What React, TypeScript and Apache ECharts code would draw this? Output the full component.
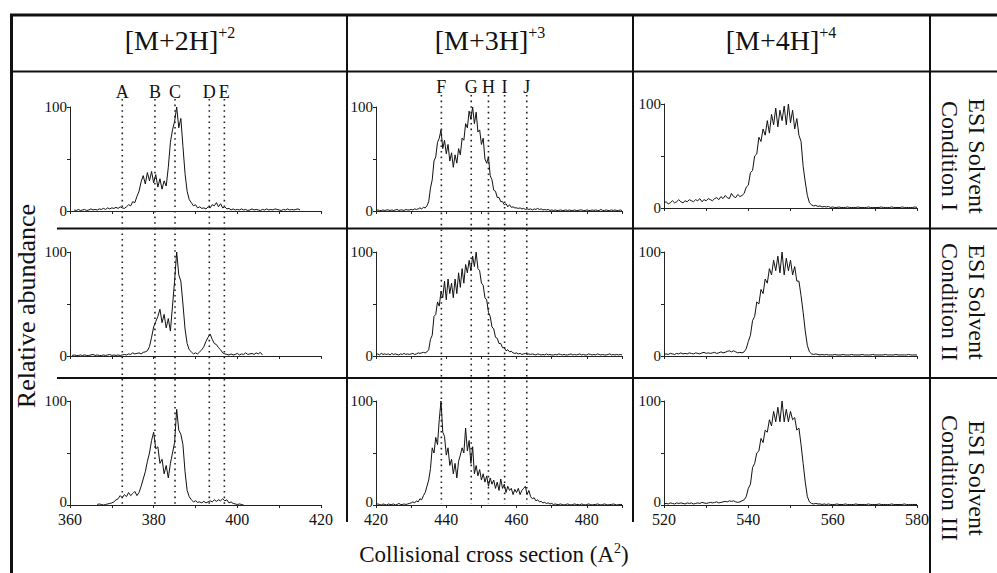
import React, { useEffect, useRef } from "react";
import * as echarts from "echarts";

const FONT = '"Liberation Serif", "Times New Roman", serif';

const COLUMN_TITLES = ["[M+2H]", "[M+3H]", "[M+4H]"];
const COLUMN_CHARGES = ["+2", "+3", "+4"];
const ROW_CONDITIONS = ["Condition I", "Condition II", "Condition III"];
const ROW_SOLVENT = "ESI Solvent";
const Y_TITLE = "Relative abundance";
const X_TITLE = "Collisional cross section (A";
const X_TITLE_SUP = "2";
const X_MIN = [360, 420, 520];
const X_MAX = [420, 490, 580];
const Y_LABELS_SHOWN = [0, 100];

const MARKERS_2H = ["A", "B", "C", "D", "E"];
const MARKER_X_2H = [372.5, 380.3, 385.1, 393.3, 396.9];
const MARKERS_3H = ["F", "G", "H", "I", "J"];
const MARKER_X_3H = [438.6, 447.1, 452.0, 456.6, 462.9];

const STEP = 0.5;

// [M+2H]+2
const START_2H_I = 361;
const VALUES_2H_I = [
  1, 0.5, 1.5, 0.5, 1, 1.5, 0.5, 1, 2, 1, 1.5, 1, 2, 1.5, 2.5, 1.5, 3, 2, 3, 2.5,
  3.5, 2.5, 4, 3, 2.5, 4, 6, 5, 9, 8, 14, 19, 28, 34, 26, 37, 29, 38, 27, 35,
  23, 31, 21, 29, 24, 42, 66, 78, 86, 100, 80, 89, 62, 36, 19, 11, 8, 5, 6, 3,
  4, 2.5, 3, 2, 4, 3, 6, 5, 8, 4, 7, 3, 4, 2, 2.5, 1, 2, 1, 1.5,
  1, 2, 1, 1.5, 0.5, 1, 2, 1, 1.5, 1, 0.5, 1.5, 1, 2, 1, 1.5, 1, 2, 1.5, 1,
  0.5, 1.5, 1, 2, 1, 1.5, 1, 1.5, 2, 1,
];
const START_2H_II = 360.5;
const VALUES_2H_II = [
  0.5, 1, 0.5, 0.5, 1, 0.5, 1, 0.5, 0.5, 1, 1.5, 0.5, 1, 0.5, 0.5, 1, 0.5, 1, 1.5, 0.5,
  1, 0.5, 1, 0.5, 1, 1.5, 1, 2, 1.5, 3, 2, 2.5, 3, 2, 3.5, 4, 5,
  9, 18, 28, 33, 38, 45, 32, 40, 27, 36, 24, 48, 72, 100, 78, 72, 50, 26, 12, 6,
  4, 2, 3, 2, 4, 6, 9, 14, 18, 21, 16, 12, 11, 8, 6, 3, 2, 1.5, 1, 2,
  1, 1.5, 2.5, 1, 2, 1.5, 3, 1.5, 2, 2.5, 1.5, 3, 2, 3.5, 1,
];
const START_2H_III = 366.5;
const VALUES_2H_III = [
  0.5, 1, 0.5, 0, 0.5, 1, 1.5, 2, 3, 5, 6, 9, 7, 10, 8, 12, 9, 11, 13, 9,
  12, 18, 25, 32, 42, 50, 62, 70, 54, 56, 40, 44, 30, 38, 26, 40, 50, 60, 92, 72,
  68, 58, 32, 14, 8, 5, 3, 4, 2.5, 3, 2, 3.5, 2, 3, 4, 3, 5, 3.5, 5, 4,
  6, 4, 5, 2, 3, 1.5, 1, 0.5, 1, 0.5, 0,
];

// [M+3H]+3
const START_3H_I = 420;
const VALUES_3H_I = [
  0.5, 1, 0.5, 0.5, 1, 0.5, 1, 1, 0.5, 1, 0.5, 1, 1.5, 0.5, 1, 1, 0.5, 1.5, 1, 1,
  1.5, 1, 2, 1.5, 2, 3, 2, 3.5, 3, 5,
  9, 22, 30, 48, 52, 66, 70, 78, 60, 68, 55, 64, 48, 56, 42, 54, 46, 60, 54, 70,
  68, 84, 80, 96, 88, 100, 84, 95, 76, 78, 64, 70, 50, 46, 52, 34, 30, 20, 19, 13,
  13, 9, 9, 6, 7, 4, 6, 3.5, 4, 3,
  3, 2.5, 3, 2, 2.5, 1.5, 2, 1.5, 2, 1, 2, 1.5, 2.5, 1.5, 2, 1, 1.5, 1, 1.5, 0.5,
  1, 0.5, 1, 0.5, 0.5, 1, 0.5, 0.5, 1, 0.5, 1, 0.5, 0.5, 1, 0.5, 0.5, 1, 1, 0.5, 0.5,
  1, 0.5, 0.5, 1, 0.5, 1, 0.5, 0.5, 1.5, 0.5, 0.5, 1, 0.5, 0.5, 1, 0.5, 1, 0.5, 0.5, 1, 0.5,
];
const START_3H_II = 420;
const VALUES_3H_II = [
  1.5, 2, 1, 2.5, 1.5, 2, 1.5, 2, 1, 2.5, 1.5, 2, 1.5, 1, 2, 1.5, 2.5, 1.5, 2, 1.5,
  2, 2.5, 1.5, 2, 3, 2.5, 3, 3.5, 3, 4,
  6, 16, 20, 38, 40, 52, 48, 62, 56, 72, 54, 74, 60, 70, 56, 74, 60, 80, 66, 84,
  70, 88, 80, 92, 82, 96, 86, 100, 84, 82, 70, 68, 56, 54, 42, 38, 28, 26, 18, 17,
  12, 12, 8, 8, 5, 6, 4, 4.5, 3, 2.5,
  3, 2, 2.5, 1.5, 2, 2.5, 1.5, 2, 1.5, 2, 1.5, 1, 2, 1.5, 1, 1.5, 1, 2, 1, 1.5,
  1, 1, 1.5, 1, 2, 1.5, 1, 1.5, 1, 1, 1.5, 2, 1, 1.5, 1, 1.5, 2, 1, 1.5, 1,
  1, 2, 1.5, 1, 1.5, 1, 2, 1.5, 1, 1.5, 1, 1, 1.5, 2, 1, 1.5, 1, 1.5, 1, 1.5, 1,
];
const START_3H_III = 420;
const VALUES_3H_III = [
  0.5, 1, 0.5, 0, 1, 0.5, 0, 1, 0.5, 0.5, 1, 0, 0.5, 1.5, 0.5, 0.5, 1, 0.5, 1, 1.5,
  2, 3, 2, 4, 3, 6, 5, 9, 12, 18, 24, 35, 55, 50, 65, 58, 82, 100, 70, 66,
  48, 55, 38, 44, 30, 40, 26, 42, 48, 55, 50, 74, 52, 62, 40, 56, 30, 38, 28, 34,
  24, 30, 22, 28, 18, 26, 20, 24, 16, 22, 14, 25, 16, 20, 12, 18, 14, 16, 10, 15,
  12, 16, 10, 14, 16, 18, 10, 14, 8, 6, 7, 4, 5, 3, 3.5, 2, 2.5, 1.5, 2, 1,
  1.5, 0.5, 1, 0.5, 0.5, 1, 0.5, 0, 0.5, 1, 0.5, 0, 0.5, 1, 0.5, 0.5, 0, 1, 0.5, 0,
  0.5, 1, 0.5, 0, 0.5, 0.5, 1, 0.5, 0, 0.5, 1, 0.5, 0, 0.5, 0.5, 1, 0.5, 0, 0.5, 0.5, 0.5,
];

// [M+4H]+4
const START_4H_I = 520;
const VALUES_4H_I = [
  5, 6, 4, 5, 7, 5, 6, 8, 6, 5, 7, 6, 8, 7, 6, 8, 7, 9, 6, 8,
  7, 9, 8, 7, 9, 10, 8, 11, 9, 12, 10, 9, 14, 11, 10, 13, 11, 12,
  14, 20, 22, 34, 36, 50, 52, 68, 64, 76, 70, 84, 72, 90, 80, 96, 78, 94, 84, 98,
  80, 100, 82, 94, 76, 86, 70, 64, 40, 25, 12, 5,
  3, 2, 2.5, 1.5, 2, 1, 1.5, 1, 1.5, 0.5,
  1, 0.5, 0.5, 1, 0.5, 0.5, 0.5, 1, 0.5, 0.5, 0.5, 0.5, 1, 0.5, 0.5, 0.5, 0.5, 1, 0.5, 0.5,
  0.5, 0.5, 0.5, 1, 0.5, 0.5, 0.5, 0.5, 1, 0.5, 0.5, 0.5, 0.5, 1, 0.5, 0.5, 0.5, 0.5, 0.5, 1, 0.5,
];
const START_4H_II = 520;
const VALUES_4H_II = [
  1.5, 2, 1.5, 2.5, 2, 1.5, 2.5, 2, 3, 2, 2.5, 2, 3, 2.5, 2, 3, 2.5, 2, 3, 3.5,
  2.5, 3, 2.5, 3, 3.5, 2.5, 3, 4, 3, 3.5, 4.5, 5, 4, 5, 4, 3, 3.5, 3, 4,
  7, 14, 20, 34, 38, 52, 50, 64, 60, 74, 70, 84, 78, 92, 82, 96, 80, 100, 78, 94,
  82, 92, 78, 86, 72, 72, 58, 42, 24, 10, 4,
  2, 1.5, 2, 1.5, 1, 1.5, 1, 1.5, 1, 1,
  1, 1.5, 1, 1, 1, 1.5, 1, 1, 1, 1.5, 1, 1, 1, 1, 1.5, 1, 1, 1, 1, 1.5,
  1, 1, 1, 1, 1, 1.5, 1, 1, 1, 1, 1.5, 1, 1, 1, 1, 1, 1.5, 1, 1, 1, 1,
];
const START_4H_III = 520;
const VALUES_4H_III = [
  1, 1.5, 1, 2, 1.5, 1, 2, 1.5, 2, 1.5, 1, 2, 1.5, 2, 1, 1.5, 2, 1.5, 2.5, 2,
  1.5, 2, 2.5, 2, 2.5, 3, 2, 2.5, 3, 3.5, 3, 4, 3.5, 4, 3, 2.5, 3, 4, 5,
  8, 16, 20, 36, 40, 50, 52, 64, 60, 72, 70, 82, 76, 90, 80, 94, 80, 100, 80, 92,
  80, 90, 82, 84, 72, 74, 58, 40, 22, 8, 3,
  1.5, 1, 1.5, 1, 1, 0.5, 1, 0.5, 1, 0.5,
  0.5, 0.5, 1, 0.5, 0.5, 0.5, 1, 0.5, 0.5, 0.5, 0.5, 1, 0.5, 0.5, 0.5, 0.5, 0.5, 1, 0.5, 0.5,
  0.5, 0.5, 1, 0.5, 0.5, 0.5, 0.5, 0.5, 1, 0.5, 0.5, 0.5, 0.5, 0.5, 1, 0.5, 0.5, 0.5, 0.5, 0.5, 0.5,
];

const SPECTRA_STARTS = [
  [START_2H_I, START_2H_II, START_2H_III],
  [START_3H_I, START_3H_II, START_3H_III],
  [START_4H_I, START_4H_II, START_4H_III],
];
const SPECTRA_VALUES = [
  [VALUES_2H_I, VALUES_2H_II, VALUES_2H_III],
  [VALUES_3H_I, VALUES_3H_II, VALUES_3H_III],
  [VALUES_4H_I, VALUES_4H_II, VALUES_4H_III],
];

// layout (pixels)
const GRID_LEFT = [70, 376, 664];
const GRID_WIDTH = [251, 246, 253];
const GRID_TOP = [
  [107, 252, 401],
  [107, 252, 401],
  [104, 252, 401],
];
const GRID_HEIGHT = 104;

export default function App() {
  const ref = useRef<HTMLDivElement>(null);

  useEffect(() => {
    if (!ref.current) return;
    const chart = echarts.init(ref.current, undefined, { renderer: "svg" });

    const grids: any[] = [];
    const xAxes: any[] = [];
    const yAxes: any[] = [];
    const series: any[] = [];

    for (let c = 0; c < 3; c++) {
      for (let r = 0; r < 3; r++) {
        const idx = c * 3 + r;
        const bottomRow = r === 2;
        grids.push({
          left: GRID_LEFT[c],
          top: GRID_TOP[c][r],
          width: GRID_WIDTH[c],
          height: GRID_HEIGHT,
          containLabel: false,
        });
        xAxes.push({
          gridIndex: idx,
          type: "value",
          min: X_MIN[c],
          max: X_MAX[c],
          interval: 10,
          axisLine: { show: true, onZero: false, lineStyle: { color: "#222", width: 1 } },
          axisTick: { show: true, length: 3, lineStyle: { color: "#222", width: 1 } },
          axisLabel: {
            show: bottomRow,
            margin: 7,
            lineHeight: 14,
            fontFamily: FONT,
            fontSize: 16,
            color: "#111",
            formatter: (v: number) => (v % 20 === 0 ? String(v) : ""),
          },
          splitLine: { show: false },
        });
        yAxes.push({
          gridIndex: idx,
          type: "value",
          min: 0,
          max: 100,
          interval: 50,
          axisLine: { show: true, lineStyle: { color: "#222", width: 1 } },
          axisTick: { show: true, length: 3, lineStyle: { color: "#222", width: 1 } },
          axisLabel: {
            show: true,
            margin: 3,
            lineHeight: 12,
            fontFamily: FONT,
            fontSize: 15,
            color: "#111",
            formatter: (v: number) => {
              if (!Y_LABELS_SHOWN.includes(v)) return "";
              if (bottomRow && v === 0) return "{z|0}";
              return String(v);
            },
            rich: {
              z: { fontFamily: FONT, fontSize: 15, lineHeight: 12, color: "#111", padding: [0, 0, 6, 0] },
            },
          },
          splitLine: { show: false },
        });
        const start = SPECTRA_STARTS[c][r];
        const vals = SPECTRA_VALUES[c][r];
        series.push({
          type: "line",
          xAxisIndex: idx,
          yAxisIndex: idx,
          showSymbol: false,
          symbol: "none",
          lineStyle: { color: "#111", width: 1 },
          data: vals.map((v, i) => [start + i * STEP, v]),
          silent: true,
        });
      }
    }

    chart.setOption({
      animation: false,
      backgroundColor: "#fff",
      grid: grids,
      xAxis: xAxes,
      yAxis: yAxes,
      series,
    });

    const stroke = "#111";
    const g: any[] = [];
    const hline = (y: number, x1: number, x2: number, w: number) =>
      g.push({ type: "line", silent: true, shape: { x1, y1: y, x2, y2: y }, style: { stroke, lineWidth: w } });
    const vline = (x: number, y1: number, y2: number, w: number) =>
      g.push({ type: "line", silent: true, shape: { x1: x, y1, x2: x, y2 }, style: { stroke, lineWidth: w } });

    // table frame
    hline(15, 10, 997, 3);
    vline(11.5, 14, 573, 3);
    hline(71.5, 10, 997, 2);
    hline(228.5, 57, 997, 2);
    hline(378, 57, 997, 2);
    vline(347, 14, 522, 2);
    vline(633, 14, 522, 2);
    vline(930, 14, 573, 2);

    // column headers
    const headerCenters = [180, 490, 781];
    COLUMN_TITLES.forEach((t, i) => {
      g.push({
        type: "text",
        silent: true,
        x: headerCenters[i],
        y: 40,
        style: {
          text: `{m|${t}}{s|${COLUMN_CHARGES[i]}}`,
          align: "center",
          verticalAlign: "middle",
          textAlign: "center",
          textVerticalAlign: "middle",
          fill: "#111",
          rich: {
            m: { fontFamily: FONT, fontSize: 28, lineHeight: 32, fill: "#111" },
            s: { fontFamily: FONT, fontSize: 16, lineHeight: 16, verticalAlign: "top", fill: "#111" },
          },
        },
      });
    });

    // row labels
    const rowCenters = [156, 302, 478];
    ROW_CONDITIONS.forEach((t, i) => {
      g.push({
        type: "text",
        silent: true,
        x: 977,
        y: rowCenters[i],
        rotation: -Math.PI / 2,
        style: {
          text: ROW_SOLVENT,
          fontFamily: FONT,
          fontSize: 24,
          fill: "#111",
          align: "center",
          verticalAlign: "middle",
          textAlign: "center",
          textVerticalAlign: "middle",
        },
      });
      g.push({
        type: "text",
        silent: true,
        x: 950,
        y: rowCenters[i],
        rotation: -Math.PI / 2,
        style: {
          text: t,
          fontFamily: FONT,
          fontSize: 24,
          fill: "#111",
          align: "center",
          verticalAlign: "middle",
          textAlign: "center",
          textVerticalAlign: "middle",
        },
      });
    });

    // y title
    g.push({
      type: "text",
      silent: true,
      x: 26,
      y: 306,
      rotation: Math.PI / 2,
      style: {
        text: Y_TITLE,
        fontFamily: FONT,
        fontSize: 26,
        fill: "#111",
        align: "center",
        verticalAlign: "middle",
        textAlign: "center",
        textVerticalAlign: "middle",
      },
    });

    // x title
    g.push({
      type: "text",
      silent: true,
      x: 494,
      y: 554,
      style: {
        text: `{m|${X_TITLE}}{s|${X_TITLE_SUP}}{m|)}`,
        align: "center",
        verticalAlign: "middle",
        textAlign: "center",
        textVerticalAlign: "middle",
        fill: "#111",
        rich: {
          m: { fontFamily: FONT, fontSize: 23, lineHeight: 26, fill: "#111" },
          s: { fontFamily: FONT, fontSize: 14, lineHeight: 14, verticalAlign: "top", fill: "#111" },
        },
      },
    });

    // dotted marker lines
    const addMarkers = (names: string[], xs: number[], axisIndex: number, top: number, bottom: number, labelY: number) => {
      xs.forEach((v, i) => {
        const px = chart.convertToPixel({ xAxisIndex: axisIndex }, v) as number;
        g.push({
          type: "line",
          silent: true,
          shape: { x1: px, y1: top, x2: px, y2: bottom },
          style: { stroke: "#222", lineWidth: 1.6, lineDash: [1.6, 4] },
        });
        g.push({
          type: "text",
          silent: true,
          x: px,
          y: labelY,
          style: {
            text: names[i],
            fontFamily: FONT,
            fontSize: 18,
            fill: "#111",
            align: "center",
            verticalAlign: "middle",
            textAlign: "center",
            textVerticalAlign: "middle",
          },
        });
      });
    };
    addMarkers(MARKERS_2H, MARKER_X_2H, 0, 99, 506, 92);
    addMarkers(MARKERS_3H, MARKER_X_3H, 3, 95, 504, 87);

    chart.setOption({ graphic: g });

    return () => {
      chart.dispose();
    };
  }, []);

  return (
    <div
      ref={ref}
      style={{ position: "fixed", left: 0, top: 0, width: 997, height: 573, background: "#fff" }}
    />
  );
}
